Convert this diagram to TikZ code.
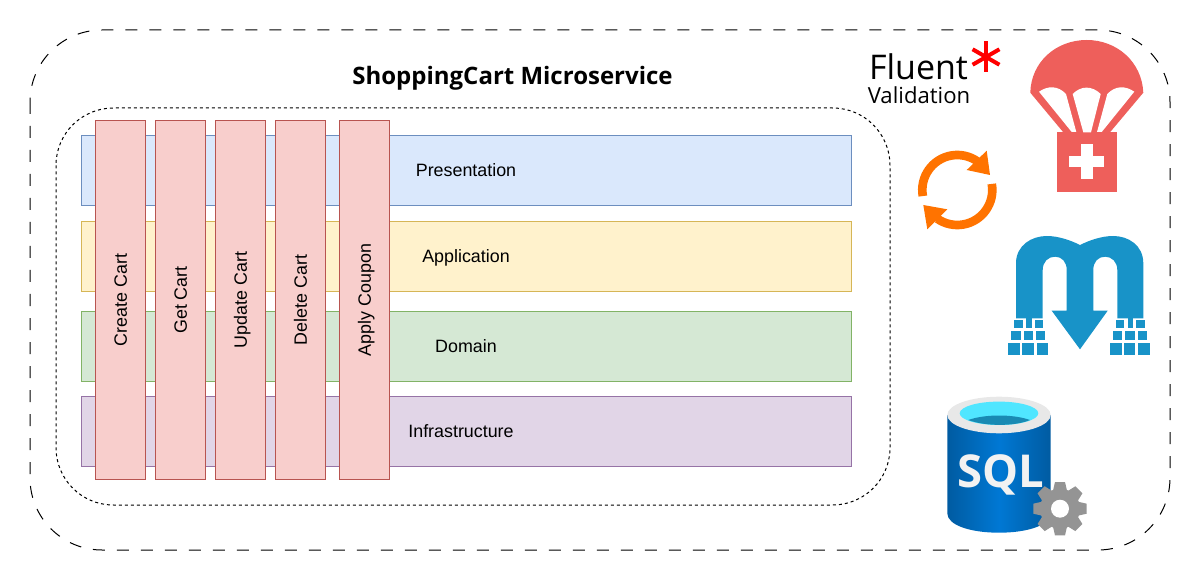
\documentclass[tikz,border=0pt]{standalone}
\usepackage{fontspec}
\setmainfont{Liberation Sans}
\newfontfamily\titlefont{Open Sans}
\newfontfamily\logofont{Open Sans}
\usetikzlibrary{positioning}
\definecolor{coral}{HTML}{EE5F5B}
\definecolor{syncorange}{HTML}{FF7300}
\definecolor{migblue}{HTML}{1893C8}
\definecolor{sqlblue}{HTML}{0078D4}
\definecolor{sqldark}{HTML}{005BA1}
\definecolor{sqlcyan}{HTML}{50E6FF}
\definecolor{sqllens}{HTML}{198AB3}
\definecolor{gearcol}{HTML}{949494}
\definecolor{colfill}{HTML}{F8CECC}
\definecolor{colline}{HTML}{B85450}
\definecolor{pres}{HTML}{DAE8FC}
\definecolor{presline}{HTML}{6C8EBF}
\definecolor{appl}{HTML}{FFF2CC}
\definecolor{applline}{HTML}{D6B656}
\definecolor{dom}{HTML}{D5E8D4}
\definecolor{domline}{HTML}{82B366}
\definecolor{infra}{HTML}{E1D5E7}
\definecolor{infraline}{HTML}{9673A6}
\tikzset{
	layer/.style={rectangle, minimum width=577.5pt, minimum height=52.5pt, inner sep=0pt, line width=0.6pt, text height=9.6pt, text depth=0.2pt, font=\fontsize{13.4}{16}\selectfont},
	column/.style={draw=colline, fill=colfill, rectangle, rotate=90, minimum width=269.5pt, minimum height=37.8pt, inner sep=0pt, line width=0.75pt, text height=9.6pt, text depth=0.2pt, font=\fontsize{13.4}{16}\selectfont},
}
\newcommand{\brickstack}{\fill[migblue] (1014.3,320) rectangle (1022.7,328.3);
					\fill[migblue] (1034.7,320) rectangle (1043,328.3);
					\fill[migblue] (1026,318) rectangle (1031.5,328.3);
					\fill[migblue] (1011.3,331) rectangle (1020.7,340.3);
					\fill[migblue] (1023.7,331) rectangle (1033,340.3);
					\fill[migblue] (1036,331) rectangle (1045.3,340.3);
					\fill[migblue] (1008,343.3) rectangle (1020,355.3);
					\fill[migblue] (1022.3,343.3) rectangle (1033.7,355.3);
					\fill[migblue] (1036.7,343.3) rectangle (1048.3,355.3);}
\begin{document}
\begin{tikzpicture}[x=0.75pt, y=-0.75pt]
	\useasboundingbox (0,0) rectangle (1204,581);

	% outer and inner frames
	\draw[black, line width=0.75pt, dash pattern=on 9pt off 9pt, rounded corners=54pt] (30,30) rectangle (1170,550);
	\draw[black, line width=0.75pt, dash pattern=on 2.25pt off 2.25pt, rounded corners=43pt] (56,108) rectangle (890,505);

	\node[font=\titlefont\bfseries\fontsize{18}{22}\selectfont] (title) at (512.5,78) {ShoppingCart Microservice};

	% layers
	\node[layer, fill=pres, draw=presline] (presentation) at (466,170.5) {Presentation};
	\node[layer, fill=appl, draw=applline] (application) at (466,256) {Application};
	\node[layer, fill=dom, draw=domline] (domain) at (466,346) {Domain};
	\node[layer, fill=infra, draw=infraline] (infrastructure) at (466,431) {};
	\node[layer, minimum width=0pt, minimum height=0pt] (infralabel) at (461,431) {Infrastructure};

	% columns
	\node[column] (createcart) at (120.5,300) {Create Cart};
	\node[column] (getcart) at (180.5,300) {Get Cart};
	\node[column] (updatecart) at (240.5,300) {Update Cart};
	\node[column] (deletecart) at (300.5,300) {Delete Cart};
	\node[column] (applycoupon) at (364.5,300) {Apply Coupon};

	% fluent logo
	\node[font=\logofont\fontsize{25.5}{30}\selectfont, inner sep=0pt] (fluent) at (918.5,67) {Fluent};
	\node[font=\logofont\fontsize{16.6}{18}\selectfont, inner sep=0pt] (validation) at (919,95) {Validation};
	\foreach \a in {90,150,30,-30,210,270}
		\draw[red, line width=3pt] (986,57) -- ++(\a:15.5);

	% parachute
	\fill[coral] (1030.3,92.7) .. controls (1031,62) and (1056,40) .. (1086.7,40) .. controls (1117,40) and (1142,62) .. (1143.3,92.7) -- (1110,132.3) -- (1063.3,132.3) -- cycle;
	\fill[coral] (1056.7,132.3) rectangle (1116.7,192);
	\fill[white] (1039,91.7) .. controls (1048,85.5) and (1058,85.5) .. (1066,94) -- (1076.3,132) -- (1071.7,132) -- cycle;
	\fill[white] (1072.7,94) .. controls (1081,85.5) and (1092,85.5) .. (1100.7,94) -- (1091,132.3) -- (1083.3,132.3) -- cycle;
	\fill[white] (1134.3,91.7) .. controls (1125.3,85.5) and (1115.3,85.5) .. (1107.3,94) -- (1097,132) -- (1101.7,132) -- cycle;
	\fill[white] (1069,156) rectangle (1104.3,167.5);
	\fill[white] (1081,144.5) rectangle (1092.5,179.5);

	% sync arrows
	\draw[syncorange, line width=6.5pt] (957.3,190) ++(170:35) arc (170:305:35);
	\draw[syncorange, line width=6.5pt] (957.3,190) ++(-10:35) arc (-10:125:35);
	\fill[syncorange] (986.7,150.7) -- (990,175) -- (966.7,170) -- cycle;
	\fill[syncorange] (923.3,205) -- (927.3,229.3) -- (947.3,209.3) -- cycle;

	% migrations
	\fill[migblue] (1016,318.3) -- (1016,263.3) .. controls (1016,245) and (1032,236) .. (1046.7,236) .. controls (1058,236) and (1070,240) .. (1080,245) .. controls (1090,240) and (1102,236) .. (1113.3,236) .. controls (1128,236) and (1143.3,245) .. (1143.3,263.3) -- (1143.3,318.3) -- (1117.3,318.3) -- (1117.3,270) .. controls (1117.3,262) and (1112,256.7) .. (1105,256.7) .. controls (1098,256.7) and (1093.3,262) .. (1093.3,270) -- (1093.3,310.7) -- (1107.7,310.7) -- (1080,349.3) -- (1051.7,310.7) -- (1066.7,310.7) -- (1066.7,270) .. controls (1066.7,262) and (1062,256.7) .. (1055,256.7) .. controls (1048,256.7) and (1042.7,262) .. (1042.7,270) -- (1042.7,318.3) -- cycle;
	\brickstack
	\begin{scope}[xshift = 76.25pt]
		\brickstack
	\end{scope}

	% sql server
	\shade[left color=sqldark, right color=sqldark, middle color=sqlblue] (947.3,415) -- (947.3,513.3) .. controls (947.3,525) and (970,532.7) .. (999,532.7) .. controls (1028,532.7) and (1050.7,525) .. (1050.7,513.3) -- (1050.7,415) -- cycle;
	\fill[black!9] (999,415) ellipse [x radius=51.7, y radius=18.3];
	\fill[sqlcyan] (999,413.3) ellipse [x radius=39.3, y radius=11.7];
	\fill[sqllens] (968.3,420) .. controls (985,414) and (1013,414) .. (1030,420) .. controls (1015,426.5) and (985,426.5) .. (968.3,420) -- cycle;
	\node[font=\logofont\bfseries\fontsize{34}{40}\selectfont, text=black!5, inner sep=0pt] (sqllabel) at (1000.5,475) {SQL};
	\fill[gearcol] (1060,508.7) circle (20);
	\foreach \a in {0,45,...,315}
		\fill[gearcol, shift={(1060,508.7)}, rotate=\a] (18,-7) -- (26.7,-5) -- (26.7,5) -- (18,7) -- cycle;
	\fill[white] (1060,508.7) circle (9);
\end{tikzpicture}
\end{document}
